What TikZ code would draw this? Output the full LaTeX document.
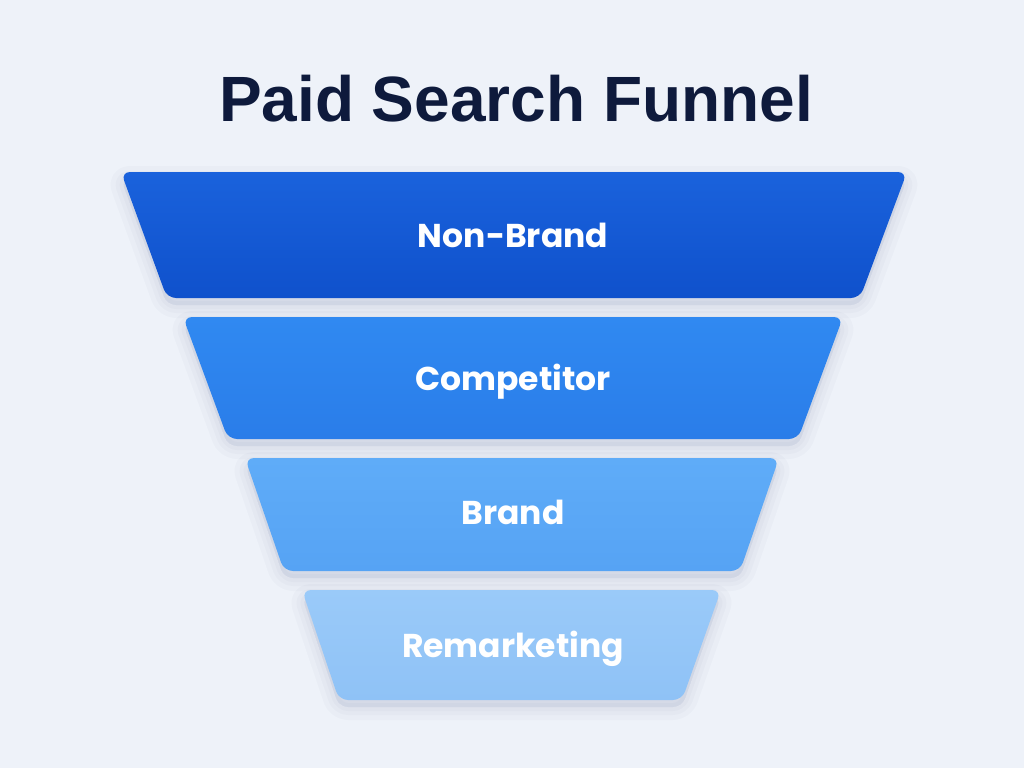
\documentclass[tikz,border=0pt]{standalone}
\usepackage{xcolor}
\usepackage{fontspec}
\usepackage{tikz}
\usetikzlibrary{positioning}

\setmainfont{Liberation Sans}
\newfontfamily\labelfont{Poppins}

\definecolor{bgpaper}{HTML}{EEF2F9}
\definecolor{titlenavy}{HTML}{0E1A3C}
\definecolor{shadownavy}{HTML}{1A3470}
\definecolor{nbtop}{HTML}{1A62DC}
\definecolor{nbbot}{HTML}{0F51CC}
\definecolor{cptop}{HTML}{3089F1}
\definecolor{cpbot}{HTML}{2A7DE9}
\definecolor{brtop}{HTML}{5FACF8}
\definecolor{brbot}{HTML}{56A3F4}
\definecolor{rmtop}{HTML}{9ACAF9}
\definecolor{rmbot}{HTML}{8FC2F6}

\begin{document}
\begin{tikzpicture}[x=1pt, y=-1pt,
    stepshape/.style={rounded corners=9pt},
    stepshadow/.style={fill=shadownavy, draw=shadownavy, opacity=0.022, line width=#1, line join=round, rounded corners=9pt},
    steplabel/.style={text=white, anchor=base, font=\labelfont\bfseries\fontsize{33}{40}\selectfont}]

    \fill [bgpaper] (0, 0) rectangle (1024, 768);
    \useasboundingbox (0, 0) rectangle (1024, 768);

    % corners of the four steps
    \coordinate (NBtl) at (121, 172);
    \coordinate (NBtr) at (907, 172);
    \coordinate (NBbr) at (860, 298);
    \coordinate (NBbl) at (167, 298);

    \coordinate (CPtl) at (183, 317);
    \coordinate (CPtr) at (843, 317);
    \coordinate (CPbr) at (798, 439);
    \coordinate (CPbl) at (228, 439);

    \coordinate (BRtl) at (245, 458);
    \coordinate (BRtr) at (779, 458);
    \coordinate (BRbr) at (740, 571);
    \coordinate (BRbl) at (284, 571);

    \coordinate (RMtl) at (302, 590);
    \coordinate (RMtr) at (721, 590);
    \coordinate (RMbr) at (682, 700);
    \coordinate (RMbl) at (339, 700);

    \node [anchor=base, text=titlenavy, font=\bfseries\fontsize{64}{72}\selectfont] (title) at (516, 121) {Paid Search Funnel};

    % soft shadows
    \foreach \w in {26, 16, 8} {
        \draw [stepshadow=\w pt] ([yshift=-7pt]NBtl) -- ([yshift=-7pt]NBtr) -- ([yshift=-7pt]NBbr) -- ([yshift=-7pt]NBbl) -- cycle;
        \draw [stepshadow=\w pt] ([yshift=-7pt]CPtl) -- ([yshift=-7pt]CPtr) -- ([yshift=-7pt]CPbr) -- ([yshift=-7pt]CPbl) -- cycle;
        \draw [stepshadow=\w pt] ([yshift=-7pt]BRtl) -- ([yshift=-7pt]BRtr) -- ([yshift=-7pt]BRbr) -- ([yshift=-7pt]BRbl) -- cycle;
        \draw [stepshadow=\w pt] ([yshift=-7pt]RMtl) -- ([yshift=-7pt]RMtr) -- ([yshift=-7pt]RMbr) -- ([yshift=-7pt]RMbl) -- cycle;
    }

    % the steps
    \shade [stepshape, top color=nbtop, bottom color=nbbot] (NBtl) -- (NBtr) -- (NBbr) -- (NBbl) -- cycle;
    \shade [stepshape, top color=cptop, bottom color=cpbot] (CPtl) -- (CPtr) -- (CPbr) -- (CPbl) -- cycle;
    \shade [stepshape, top color=brtop, bottom color=brbot] (BRtl) -- (BRtr) -- (BRbr) -- (BRbl) -- cycle;
    \shade [stepshape, top color=rmtop, bottom color=rmbot] (RMtl) -- (RMtr) -- (RMbr) -- (RMbl) -- cycle;

    \node [steplabel] (nonbrand) at (513, 247) {Non-Brand};
    \node [steplabel] (competitor) at (513, 390) {Competitor};
    \node [steplabel] (brand) at (513, 524) {Brand};
    \node [steplabel] (remarketing) at (513, 657) {Remarketing};
\end{tikzpicture}
\end{document}
